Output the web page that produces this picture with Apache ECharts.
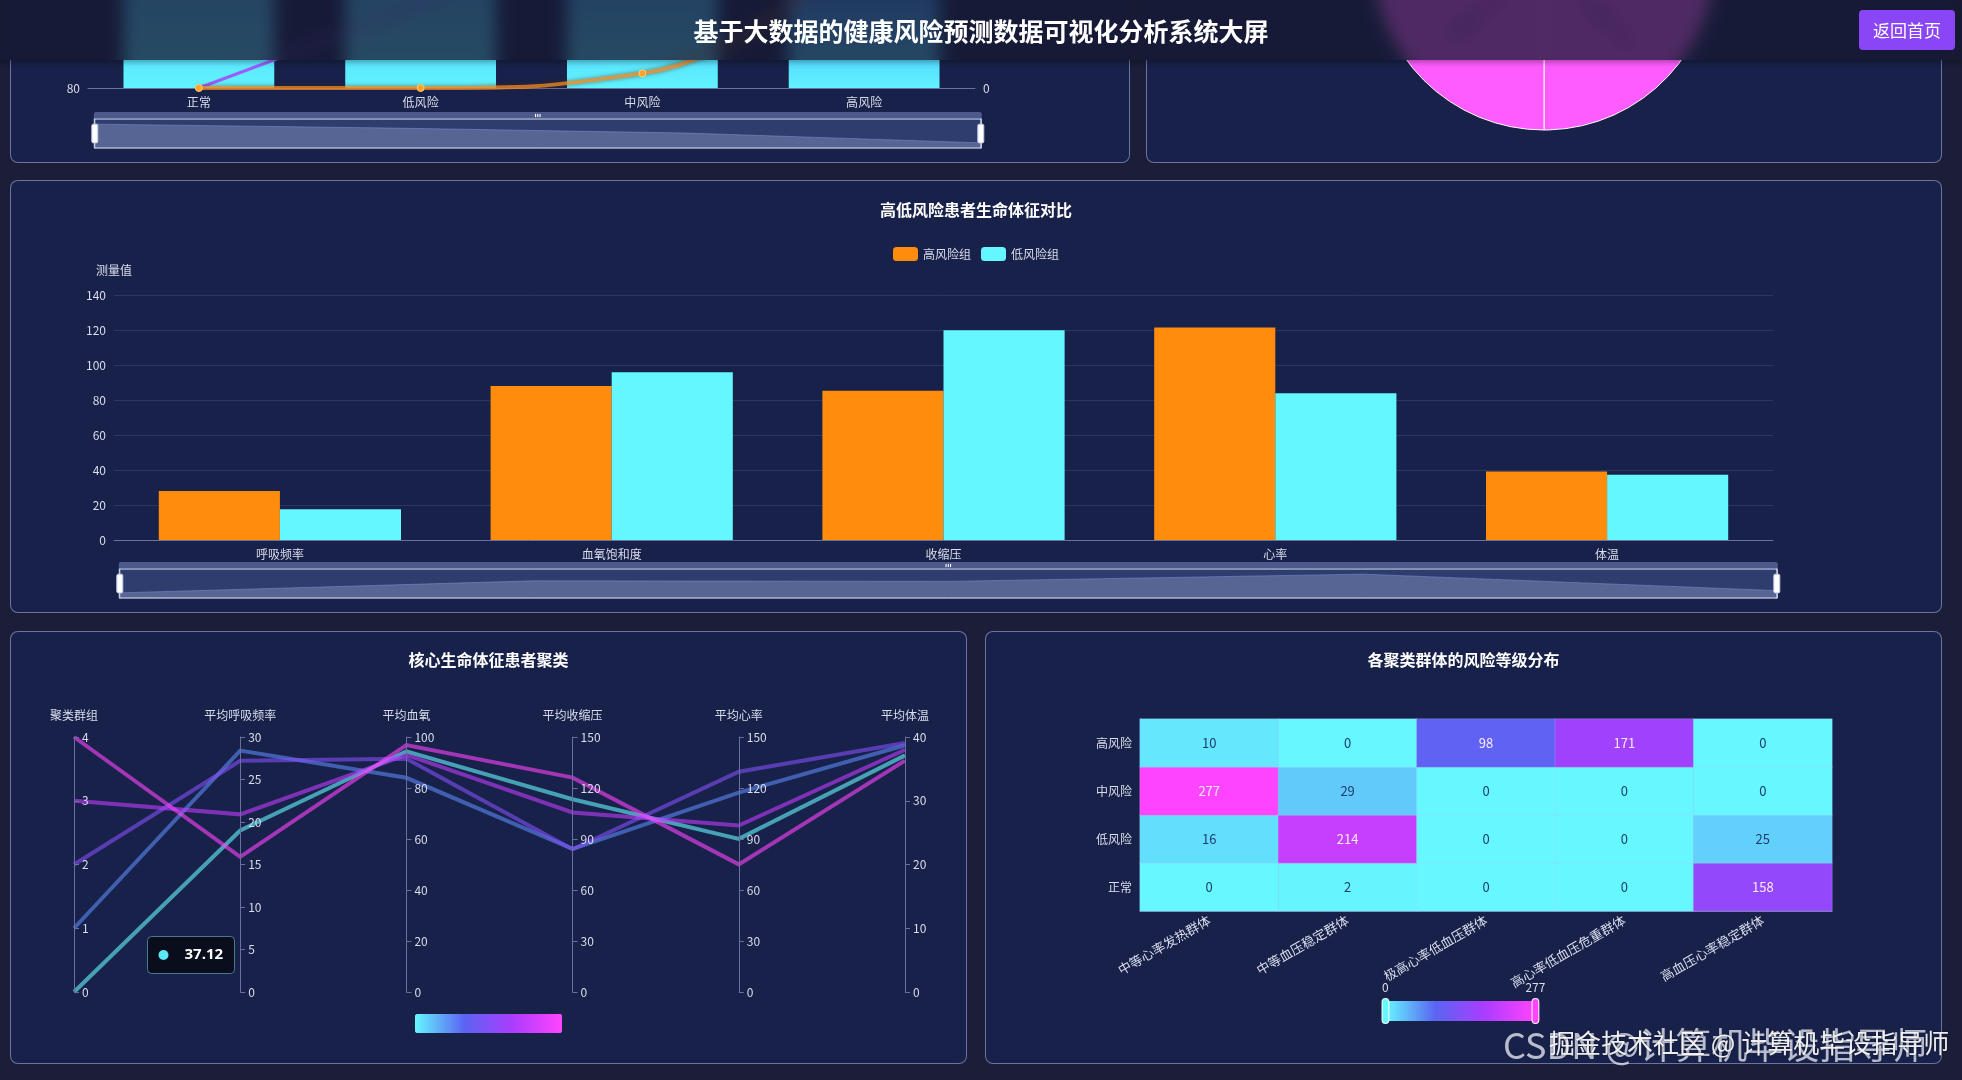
<!DOCTYPE html>
<html>
<head>
<meta charset="utf-8">
<script src="https://cdn.jsdelivr.net/npm/echarts@6/dist/echarts.min.js"></script>
<style>
html,body{margin:0;padding:0;width:1962px;height:1080px;overflow:hidden;background:#1b1d39;font-family:"Noto Sans CJK SC","Noto Sans",sans-serif;}
.panel{position:absolute;box-sizing:border-box;border:1px solid rgba(175,185,230,0.55);border-radius:8px;background:#182149;overflow:hidden;}
.chart{position:absolute;left:0;top:0;width:100%;height:100%;}
#header{position:absolute;left:0;top:0;width:1962px;height:60px;background:#1b1d39;z-index:10;overflow:hidden;box-shadow:0 2px 6px rgba(0,0,0,0.35);}
#header img{position:absolute;filter:blur(8px);}
#shade{position:absolute;left:0;top:0;width:1962px;height:60px;background:rgba(23,25,50,0.76);}
#title{position:absolute;left:0;top:0;width:1962px;height:60px;line-height:60px;text-align:center;color:#fff;font-size:25px;font-weight:bold;}
#btn{position:absolute;left:1859px;top:10px;width:96px;height:40px;background:#8a45f6;color:#fff;border-radius:4px;font-size:17px;line-height:40px;text-align:center;}
.wm{position:absolute;z-index:20;white-space:nowrap;pointer-events:none;}
</style>
</head>
<body>
<div class="panel" style="left:10px;top:-270px;width:1120px;height:433px;"><div id="c1" class="chart"></div></div>
<div class="panel" style="left:1146px;top:-270px;width:796px;height:433px;"><div id="c2" class="chart"></div></div>
<div class="panel" style="left:10px;top:180px;width:1932px;height:433px;"><div id="c3" class="chart"></div></div>
<div class="panel" style="left:10px;top:631px;width:957px;height:433px;"><div id="c4" class="chart"></div></div>
<div class="panel" style="left:985px;top:631px;width:957px;height:433px;"><div id="c5" class="chart"></div></div>
<div id="header">
  <img id="b1" style="left:11px;top:-269px;" alt="">
  <img id="b2" style="left:1147px;top:-269px;" alt="">
  <div id="shade"></div>
  <div id="title">基于大数据的健康风险预测数据可视化分析系统大屏</div>
  <div id="btn">返回首页</div>
</div>
<div class="wm" style="left:1503px;top:1017px;font-size:36px;color:rgba(225,228,238,0.8);">CSDN @计算机毕设指导师</div>
<div class="wm" style="left:1549px;top:1023px;font-size:26px;color:rgba(255,255,255,0.92);text-shadow:0 0 2px rgba(0,0,0,0.5);">掘金技术社区 @ 计算机毕设指导师</div>
<script>
// ---------- data ----------
const riskLevels = ['正常', '低风险', '中风险', '高风险'];
const riskAvgSpo2 = [98.2, 96.1, 93.4, 88.1];
const riskLineOrange = [0, 0, 6, 62];
const riskLinePurple = [0, 34, 68, 100];

const pieNames = ['正常', '低风险', '高风险', '中风险'];
const pieValues = [160, 255, 279, 306];

const vitalNames = ['呼吸频率', '血氧饱和度', '收缩压', '心率', '体温'];
const highRiskVitals = [28, 88, 85.3, 121.5, 39.2];
const lowRiskVitals = [17.6, 95.9, 119.9, 83.8, 37.3];

const clusterDims = ['聚类群组', '平均呼吸频率', '平均血氧', '平均收缩压', '平均心率', '平均体温'];
const clusterAxisMax = [4, 30, 100, 150, 150, 40];
const clusterAxisStep = [1, 5, 20, 30, 30, 10];
const clusterIds = [0, 1, 2, 3, 4];
const clusterResp = [19.0, 28.4, 27.2, 20.9, 15.9];
const clusterSpo2 = [94.4, 84.0, 91.5, 93.0, 96.8];
const clusterSbp = [113.4, 84.2, 84.0, 105.6, 126.1];
const clusterHr = [90.1, 117.3, 129.6, 97.9, 75.1];
const clusterTemp = [37.12, 38.7, 39.07, 38.0, 36.3];

const clusterNames = ['中等心率发热群体', '中等血压稳定群体', '极高心率低血压群体', '高心率低血压危重群体', '高血压心率稳定群体'];
const heatRiskAxis = ['正常', '低风险', '中风险', '高风险'];
const heatNormal = [0, 2, 0, 0, 158];
const heatLow = [16, 214, 0, 0, 25];
const heatMid = [277, 29, 0, 0, 0];
const heatHigh = [10, 0, 98, 171, 0];

const palette = ['#66f7ff', '#5a64f2', '#ac3cff', '#ff44ff'];
const txt = '#d9ddec';
const axisCol = '#66739a';
const font = '"Noto Sans CJK SC","Noto Sans",sans-serif';
const panelBg = '#182149';

// ---------- chart 1: top-left ----------
const c1 = echarts.init(document.getElementById('c1'));
c1.setOption({
  animation: false,
  textStyle: {fontFamily: font},
  grid: {left: 77, right: 154, top: 113, bottom: 74},
  xAxis: {type: 'category', data: riskLevels,
    axisLine: {lineStyle: {color: axisCol}}, axisTick: {lineStyle: {color: axisCol}},
    axisLabel: {color: txt, fontSize: 12}},
  yAxis: [
    {type: 'value', min: 80, max: 100, interval: 10, axisLabel: {color: txt, fontSize: 12},
      splitLine: {lineStyle: {color: 'rgba(110,130,190,0.2)'}}},
    {type: 'value', min: 0, max: 100, interval: 50, axisLabel: {color: txt, fontSize: 12},
      splitLine: {show: false}}
  ],
  dataZoom: [{type: 'slider', left: 80, right: 150, bottom: 20, height: 30, xAxisIndex: 0}],
  series: [
    {name: '平均血氧', type: 'bar', yAxisIndex: 0, data: riskAvgSpo2, barWidth: '68%',
      itemStyle: {color: new echarts.graphic.LinearGradient(0, 0, 0, 1, [
        {offset: 0, color: '#3f9dff'}, {offset: 1, color: '#60f3ff'}])}},
    {name: '趋势A', type: 'line', yAxisIndex: 1, data: riskLinePurple,
      symbol: 'circle', symbolSize: 6, lineStyle: {width: 3, color: '#9b5cff'},
      itemStyle: {color: '#9b5cff'}},
    {name: '趋势B', type: 'line', yAxisIndex: 1, data: riskLineOrange, smooth: true,
      symbol: 'circle', symbolSize: 7,
      lineStyle: {width: 4, color: '#ff9326', opacity: 0.7, shadowColor: 'rgba(90,40,0,0.8)', shadowBlur: 4},
      itemStyle: {color: '#ffa229', borderColor: '#ffcf70', borderWidth: 1}}
  ]
});

// ---------- chart 2: top-right pie ----------
const c2 = echarts.init(document.getElementById('c2'));
c2.setOption({
  animation: false,
  textStyle: {fontFamily: font},
  series: [{
    type: 'pie', center: ['50%', 229], radius: [0, 170], startAngle: 59.4,
    data: pieNames.map((n, i) => ({name: n, value: pieValues[i]})),
    itemStyle: {color: '#ff5cff', borderColor: '#ffffff', borderWidth: 1},
    label: {show: true, position: 'inside', rotate: 'radial', color: '#5a2080', fontSize: 12,
      formatter: '{b}: {c}'},
    labelLine: {show: false}
  }]
});

// blurred copies of the top charts seen through the translucent header
document.getElementById('b1').src = c1.getDataURL({pixelRatio: 1, backgroundColor: panelBg});
document.getElementById('b2').src = c2.getDataURL({pixelRatio: 1, backgroundColor: panelBg});

// ---------- chart 3: middle bars ----------
const c3 = echarts.init(document.getElementById('c3'));
c3.setOption({
  textStyle: {fontFamily: font},
  title: {text: '高低风险患者生命体征对比', left: 'center', top: 16,
    textStyle: {color: '#ffffff', fontSize: 16, fontWeight: 'bold'}},
  legend: {top: 61, left: 'center', itemWidth: 25, itemHeight: 14, itemGap: 10,
    textStyle: {color: txt, fontSize: 12}, data: ['高风险组', '低风险组']},
  grid: {left: 103, right: 168, top: 114, bottom: 72},
  xAxis: {type: 'category', data: vitalNames,
    axisLine: {lineStyle: {color: axisCol}}, axisTick: {lineStyle: {color: axisCol}},
    axisLabel: {color: txt, fontSize: 12}},
  yAxis: {type: 'value', name: '测量值', nameGap: 19, min: 0, max: 140, interval: 20,
    nameTextStyle: {color: txt, fontSize: 12},
    axisLabel: {color: txt, fontSize: 12},
    splitLine: {lineStyle: {color: 'rgba(110,130,190,0.22)'}}},
  dataZoom: [{type: 'slider', left: 105, right: 166, bottom: 20, height: 30}],
  series: [
    {name: '高风险组', type: 'bar', data: highRiskVitals, barGap: '0%', barCategoryGap: '27%',
      itemStyle: {color: '#ff8c0c'}},
    {name: '低风险组', type: 'bar', data: lowRiskVitals, itemStyle: {color: '#64f7ff'}}
  ]
});

// ---------- chart 4: parallel ----------
const c4 = echarts.init(document.getElementById('c4'));
const parallelRows = clusterIds.map((id, i) =>
  [id, clusterResp[i], clusterSpo2[i], clusterSbp[i], clusterHr[i], clusterTemp[i]]);
c4.setOption({
  textStyle: {fontFamily: font},
  title: {text: '核心生命体征患者聚类', left: 'center', top: 15,
    textStyle: {color: '#ffffff', fontSize: 16, fontWeight: 'bold'}},
  parallel: {left: 63, right: 61, top: 105, bottom: 71,
    parallelAxisDefault: {
      nameLocation: 'end', nameGap: 16,
      nameTextStyle: {color: txt, fontSize: 12},
      axisLine: {lineStyle: {color: '#69719a'}},
      axisTick: {lineStyle: {color: '#69719a'}},
      axisLabel: {color: txt, fontSize: 12},
      splitLine: {show: false}
    }},
  parallelAxis: clusterDims.map((n, i) => ({dim: i, name: n, min: 0,
    max: clusterAxisMax[i], interval: clusterAxisStep[i]})),
  visualMap: {type: 'continuous', min: 0, max: 4, dimension: 0, orient: 'horizontal',
    left: 'center', bottom: 15, itemWidth: 19, itemHeight: 147, calculable: false,
    inRange: {color: palette}, textStyle: {color: txt}},
  graphic: [{type: 'group', left: 136, top: 304, children: [
    {type: 'rect', shape: {x: 0, y: 0, width: 87, height: 37, r: 4},
      style: {fill: '#0a0d1c', stroke: 'rgba(120,200,220,0.55)', lineWidth: 1}},
    {type: 'circle', shape: {cx: 16, cy: 18.5, r: 5}, style: {fill: '#5ce8f4'}},
    {type: 'text', x: 37, y: 18.5, style: {text: String(clusterTemp[0]), fill: '#ffffff',
      font: 'bold 15px "Open Sans", sans-serif', verticalAlign: 'middle'}}
  ]}],
  series: [{type: 'parallel', data: parallelRows,
    lineStyle: {width: 4, opacity: 0.6}}]
});

// ---------- chart 5: heatmap ----------
const c5 = echarts.init(document.getElementById('c5'));
const heatRows = [heatNormal, heatLow, heatMid, heatHigh];
const heatData = [];
heatRows.forEach((row, yi) => row.forEach((v, xi) => {
  heatData.push({value: [xi, yi, v], label: {color: v > 50 ? '#fbeaff' : '#1f3d6c'}});
}));
c5.setOption({
  textStyle: {fontFamily: font},
  title: {text: '各聚类群体的风险等级分布', left: 'center', top: 15,
    textStyle: {color: '#ffffff', fontSize: 16, fontWeight: 'bold'}},
  grid: {left: 154, right: 109, top: 87, bottom: 152},
  xAxis: {type: 'category', data: clusterNames,
    axisLine: {lineStyle: {color: axisCol}}, axisTick: {lineStyle: {color: axisCol}},
    axisLabel: {color: txt, fontSize: 13, rotate: 30, interval: 0}},
  yAxis: {type: 'category', data: heatRiskAxis,
    axisLine: {lineStyle: {color: axisCol}}, axisTick: {lineStyle: {color: axisCol}},
    axisLabel: {color: txt, fontSize: 12}},
  visualMap: {min: 0, max: 277, calculable: true, orient: 'horizontal', left: 'center',
    bottom: 24, itemWidth: 20, itemHeight: 150, inRange: {color: palette},
    textStyle: {color: txt, fontSize: 12}},
  series: [{type: 'heatmap', data: heatData,
    itemStyle: {borderColor: 'rgba(190,200,255,0.25)', borderWidth: 1},
    label: {show: true, fontSize: 13}}]
});
</script>
</body>
</html>
